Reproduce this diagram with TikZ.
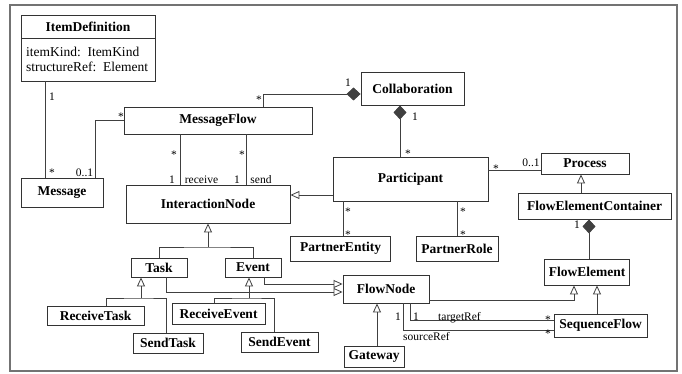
\documentclass[tikz,border=0pt]{standalone}
\usepackage{fontspec}
\setmainfont{Liberation Serif}
\usetikzlibrary{arrows.meta}

\begin{document}
\begin{tikzpicture}[x=1pt,y=-1pt,
  cls/.style={draw=black!80,line width=0.9pt,inner sep=0pt,align=center,
    font=\fontsize{13.5}{15}\selectfont\bfseries},
  ln/.style={draw=black!75,line width=0.8pt},
  gen/.style={ln,-{Triangle[open,length=9pt,width=8pt]}},
  comp/.style={ln,-{Diamond[length=14pt,width=13pt]}},
  lbl/.style={inner sep=0pt,anchor=base,font=\fontsize{11.5}{12}\selectfont}]
\useasboundingbox (0,0) rectangle (682,374);
\draw[black!55,line width=1.3pt] (10,5) rectangle (677,371);
\node[cls,minimum width=134,minimum height=23] (itemdef) at (88,26.5) {ItemDefinition};
\node[cls,minimum width=134,minimum height=43,text width=124,align=left,
  font=\fontsize{13.5}{15}\selectfont] (itemattr) at (88,59.5) {itemKind: ItemKind\\structureRef: Element};
\node[cls,minimum width=82,minimum height=29] (message) at (62,192.5) {Message};
\node[cls,minimum width=188,minimum height=27] (msgflow) at (218,120.5) {MessageFlow};
\node[cls,minimum width=164,minimum height=38] (interact) at (208,204) {InteractionNode};
\node[cls,minimum width=103,minimum height=33] (collab) at (412.5,88.5) {Collaboration};
\node[cls,minimum width=155,minimum height=44] (particip) at (410.5,179) {Participant};
\node[cls,minimum width=88,minimum height=21] (process) at (585,163.5) {Process};
\node[cls,minimum width=153,minimum height=26] (fec) at (594.5,206) {FlowElementContainer};
\node[cls,minimum width=100,minimum height=25] (pentity) at (340.5,248.5) {PartnerEntity};
\node[cls,minimum width=82,minimum height=25] (prole) at (457,248.5) {PartnerRole};
\node[cls,minimum width=85,minimum height=26] (flowel) at (587,272) {FlowElement};
\node[cls,minimum width=86,minimum height=28] (flownode) at (386,289) {FlowNode};
\node[cls,minimum width=93,minimum height=23] (seqflow) at (600.5,325.5) {SequenceFlow};
\node[cls,minimum width=60,minimum height=21] (gateway) at (374,356.5) {Gateway};
\node[cls,minimum width=56,minimum height=19] (task) at (159,267.5) {Task};
\node[cls,minimum width=56,minimum height=19] (event) at (253,267.5) {Event};
\node[cls,minimum width=97,minimum height=19] (rtask) at (95.5,315.5) {ReceiveTask};
\node[cls,minimum width=70,minimum height=20] (stask) at (168,343) {SendTask};
\node[cls,minimum width=93,minimum height=21] (revent) at (218.5,313.5) {ReceiveEvent};
\node[cls,minimum width=77,minimum height=20] (sevent) at (279.5,342) {SendEvent};
\coordinate (ij) at (208,247);
\coordinate (tj) at (141,298);
\coordinate (ej) at (249,298);
\draw[ln] (itemattr.south -| 45,0) -- (message.north -| 45,0);
\draw[ln] (message.north -| 95,0) |- (msgflow.west);
\draw[comp] (msgflow.north -| 263,0) |- (collab.west |- 0,94);
\draw[comp] (particip.north -| 400,0) -- (collab.south -| 400,0);
\draw[ln] (msgflow.south -| 180,0) -- (interact.north -| 180,0);
\draw[ln] (msgflow.south -| 246,0) -- (interact.north -| 246,0);
\draw[gen] (particip.west |- 0,195) -- (interact.east |- 0,195);
\draw[ln] (particip.south -| 343,0) -- (pentity.north -| 343,0);
\draw[ln] (particip.south -| prole.north) -- (prole.north);
\draw[ln] (particip.east |- 0,170) -- (process.west |- 0,170);
\draw[gen] (fec.north -| 581,0) -- (process.south -| 581,0);
\draw[comp] (flowel.north -| 589,0) -- (fec.south -| 589,0);
\draw[gen] (ij) -- (interact.south -| ij);
\draw[ln] (task.north) |- (ij) -| (event.north);
\draw[gen] (tj) -- (task.south -| tj);
\draw[ln] (rtask.north -| 106,0) |- (tj) -| (stask.north -| 166,0);
\draw[gen] (ej) -- (event.south -| ej);
\draw[ln] (revent.north -| 214,0) |- (ej) -| (sevent.north -| 274,0);
\draw[gen] (task.south -| 166,0) |- (flownode.west |- 0,292);
\draw[gen] (event.south -| 264,0) |- (flownode.west |- 0,284);
\draw[gen] (gateway.north -| 377,0) -- (flownode.south -| 377,0);
\draw[gen] (flownode.east |- 0,300) -| (flowel.south -| 574,0);
\draw[gen] (seqflow.north -| 597,0) -- (flowel.south -| 597,0);
\draw[ln] (flownode.south -| 410,0) |- (seqflow.west |- 0,320);
\draw[ln] (flownode.south -| 403,0) |- (seqflow.west |- 0,330);
\node[lbl] (m1) at (52,101) {1};
\node[lbl] (m2) at (52,176) {*};
\node[lbl] (m3) at (84.5,177) {0..1};
\node[lbl] (m4) at (121,121) {*};
\node[lbl] (c1) at (259,104) {*};
\node[lbl] (c2) at (348,87) {1};
\node[lbl] (c3) at (415,121) {1};
\node[lbl] (c4) at (408,157.5) {*};
\node[lbl] (r1) at (174,158.5) {*};
\node[lbl] (r2) at (172,183) {1};
\node[lbl] (r3) at (201.5,183) {receive};
\node[lbl] (s1) at (242,158.5) {*};
\node[lbl] (s2) at (237,183) {1};
\node[lbl] (s3) at (261,183) {send};
\node[lbl] (p1) at (348,215.5) {*};
\node[lbl] (p2) at (348,238.5) {*};
\node[lbl] (p3) at (463,215.5) {*};
\node[lbl] (p4) at (463,238.5) {*};
\node[lbl] (p5) at (496,172) {*};
\node[lbl] (p6) at (531,167) {0..1};
\node[lbl] (f1) at (577,228) {1};
\node[lbl] (t1) at (416,320) {1};
\node[lbl] (t2) at (459.5,320) {targetRef};
\node[lbl] (t3) at (548,323) {*};
\node[lbl] (u1) at (398,320) {1};
\node[lbl] (u2) at (426.5,340) {sourceRef};
\node[lbl] (u3) at (548,337.5) {*};
\end{tikzpicture}
\end{document}
